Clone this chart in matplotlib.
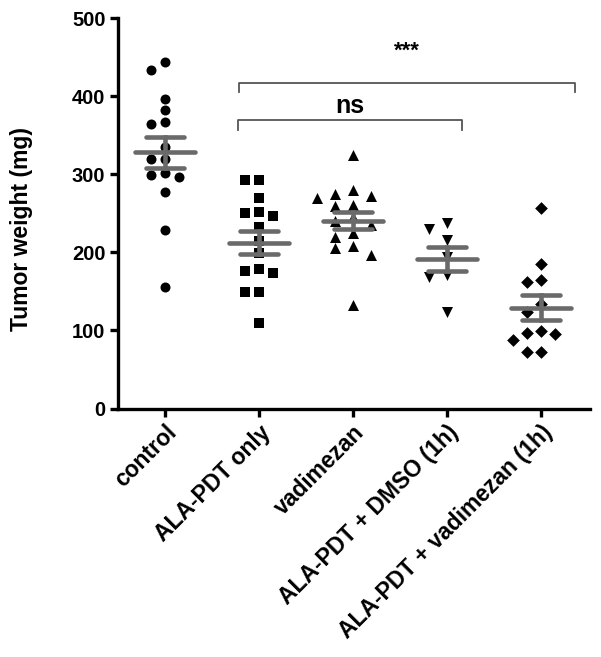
import numpy as np
import matplotlib
matplotlib.use('Agg')
import matplotlib.pyplot as plt
import matplotlib.transforms as mtransforms

plt.rcParams['font.family'] = ['Liberation Sans', 'DejaVu Sans']
plt.rcParams['font.weight'] = 'bold'

groups = ['control', 'ALA-PDT only', 'vadimezan', 'ALA-PDT + DMSO (1h)',
          'ALA-PDT + vadimezan (1h)']

control = [444, 433, 396, 382, 367, 364, 335, 319, 319, 302, 299, 296, 277, 228, 156]
ala_only = [293, 293, 270, 252, 250, 247, 233, 214, 199, 179, 176, 174, 149, 149, 110]
vadimezan = [325, 280, 275, 272, 269, 261, 259, 245, 240, 235, 225, 220, 208, 205, 197, 133]
ala_dmso = [238, 230, 216, 194, 171, 169, 124]
ala_vad = [257, 185, 164, 162, 134, 124, 99, 97, 96, 88, 73, 72]

series = [control, ala_only, vadimezan, ala_dmso, ala_vad]
markers = ['o', 's', '^', 'v', 'D']
msizes = [10, 10, 11, 11, 9]
steps = [0.15, 0.15, 0.19, 0.19, 0.15]

# brackets: (left x, right x, y, label)
brackets = [(0.79, 4.36, 417, '***'), (0.78, 3.16, 369, 'ns')]


def swarm(values, step=0.15, gap=13.0):
    # simple column layout like a scatter dot plot
    placed = []
    offs = []
    for v in values:
        for k in [0, -1, 1, -2, 2]:
            ok = all(not (pk == k and abs(pv - v) < gap) for pv, pk in placed)
            if ok:
                placed.append((v, k))
                offs.append(k * step)
                break
    return np.array(offs)


fig = plt.figure(figsize=(6.01, 6.57), dpi=100)
ax = fig.add_axes([0.1963, 0.3782, 0.7854, 0.5944])

grey = '#6a6a6a'
for i, vals in enumerate(series):
    vals = np.array(vals, dtype=float)
    x = i + swarm(vals, step=steps[i])
    ax.scatter(x, vals, marker=markers[i], s=(msizes[i] * 0.72) ** 2,
               color='black', linewidths=0, zorder=2)
    m = vals.mean()
    sem = vals.std(ddof=1) / np.sqrt(len(vals))
    ax.plot([i - 0.32, i + 0.32], [m, m], color=grey, lw=3.3,
            solid_capstyle='round', zorder=3)
    ax.plot([i - 0.2, i + 0.2], [m + sem, m + sem], color=grey, lw=3.3,
            solid_capstyle='round', zorder=3)
    ax.plot([i - 0.2, i + 0.2], [m - sem, m - sem], color=grey, lw=3.3,
            solid_capstyle='round', zorder=3)
    ax.plot([i, i], [m - sem, m + sem], color=grey, lw=3.3, zorder=3)

for x1, x2, y, lab in brackets:
    ax.plot([x1, x1, x2, x2], [y - 12, y, y, y - 12], color='#555555', lw=1.3)
    if lab == 'ns':
        ax.text((x1 + x2) / 2, y + 3, lab, ha='center', va='bottom',
                fontsize=18, fontweight='bold')
    else:
        ax.text((x1 + x2) / 2, y + 27, lab, ha='center', va='bottom',
                fontsize=16, fontweight='bold')

ax.set_xlim(-0.5, 4.52)
ax.set_ylim(0, 500)
ax.set_yticks([0, 100, 200, 300, 400, 500])
ax.set_xticks(range(len(groups)))
ax.set_xticklabels(groups, rotation=45, ha='right', va='top',
                   rotation_mode='anchor', fontsize=16.5, fontweight='bold')
shift = mtransforms.ScaledTranslation(6 / 100, -8 / 100, fig.dpi_scale_trans)
for lab in ax.get_xticklabels():
    lab.set_transform(lab.get_transform() + shift)
for lab in ax.get_yticklabels():
    lab.set_fontsize(14.5)
    lab.set_fontweight('bold')
ax.set_ylabel('Tumor weight (mg)', fontsize=16.5, fontweight='bold')
ax.yaxis.set_label_coords(-0.18, 0.46)

for s in ['top', 'right']:
    ax.spines[s].set_visible(False)
for s in ['left', 'bottom']:
    ax.spines[s].set_linewidth(2.4)
ax.tick_params(axis='both', direction='out', length=6, width=2.4, pad=3)

plt.savefig('out.png', dpi=100)
plt.close()
